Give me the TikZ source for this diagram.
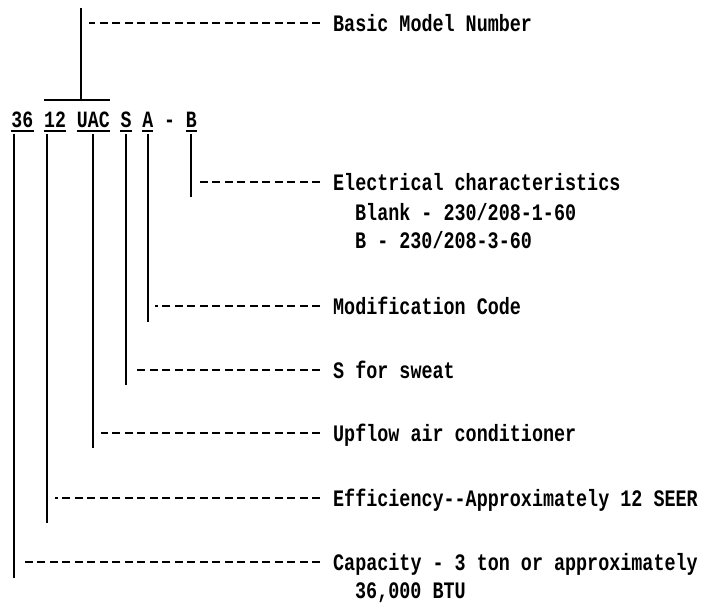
\documentclass[tikz,border=0pt]{standalone}
\usepackage{fontspec}
\newfontfamily\printfont[FakeStretch=0.78]{Liberation Mono}
\usetikzlibrary{positioning}

\begin{document}
\begin{tikzpicture}[
  x=1pt, y=-1pt,
  code/.style={inner sep=0pt, anchor=base, text height=15pt, text depth=0pt, font=\printfont\bfseries\fontsize{23.3}{28}\selectfont},
  desc/.style={inner sep=0pt, anchor=west, text height=18pt, text depth=2pt, font=\printfont\bfseries\fontsize{23.6}{28}\selectfont},
  lead/.style={line width=2pt},
  guide/.style={line width=1.7pt, dash pattern=on 8pt off 4.5pt, shorten <=13pt, shorten >=7.5pt}
]
\useasboundingbox (0,0) rectangle (704,611);

\node[code] (c36) at (22.4,127) {36};
\node[code] (c12) at (55.1,127) {12};
\node[code] (cuac) at (93.3,127) {UAC};
\node[code] (cs) at (126,127) {S};
\node[code] (ca) at (147.8,127) {A};
\node[code] (cdash) at (169.5,127) {-};
\node[code] (cb) at (191.4,127) {B};

\node[desc] (basic) at (333,23) {Basic Model Number};
\node[desc] (elec) at (333,182) {Electrical characteristics};
\node[desc] (blank) at (355,212) {Blank - 230/208-1-60};
\node[desc] (threeph) at (355,240) {B - 230/208-3-60};
\node[desc] (mod) at (333,306) {Modification Code};
\node[desc] (sweat) at (333,370) {S for sweat};
\node[desc] (upflow) at (333,433) {Upflow air conditioner};
\node[desc] (eff) at (333,498) {Efficiency--Approximately 12 SEER};
\node[desc] (cap) at (333,562) {Capacity - 3 ton or approximately};
\node[desc] (btu) at (355,590) {36,000 BTU};

\foreach \n in {c36,c12,cuac,cs,ca,cb}
  \draw[lead] ([yshift=-4pt]\n.south west) -- ([yshift=-4pt]\n.south east);

\draw[lead] ([yshift=12pt]c12.north west) -- ([yshift=12pt]cuac.north east);
\draw[lead] ([xshift=4.5pt,yshift=12pt]cuac.north west) coordinate (bar) -- ++(0,-92);
\draw[guide] (basic.west) -- (bar |- basic.west);

\draw[lead] ([yshift=-7pt]cb.south) coordinate (lb) -- (lb |- elec.west) -- ++(0,15);
\draw[guide] (elec.west) -- (lb |- elec.west);
\draw[lead] ([yshift=-7pt]ca.south) coordinate (la) -- (la |- mod.west) -- ++(0,16);
\draw[guide] (mod.west) -- (la |- mod.west);
\draw[lead] ([yshift=-7pt]cs.south) coordinate (ls) -- (ls |- sweat.west) -- ++(0,15);
\draw[guide] (sweat.west) -- (ls |- sweat.west);
\draw[lead] ([yshift=-7pt]cuac.south) coordinate (luac) -- (luac |- upflow.west) -- ++(0,15);
\draw[guide] (upflow.west) -- (luac |- upflow.west);
\draw[lead] ([xshift=3.5pt,yshift=-7pt]c12.south west) coordinate (l12) -- (l12 |- eff.west) -- ++(0,25);
\draw[guide] (eff.west) -- (l12 |- eff.west);
\draw[lead] ([xshift=2.5pt,yshift=-7pt]c36.south west) coordinate (l36) -- (l36 |- cap.west) -- ++(0,16);
\draw[guide] (cap.west) -- (l36 |- cap.west);
\end{tikzpicture}
\end{document}
